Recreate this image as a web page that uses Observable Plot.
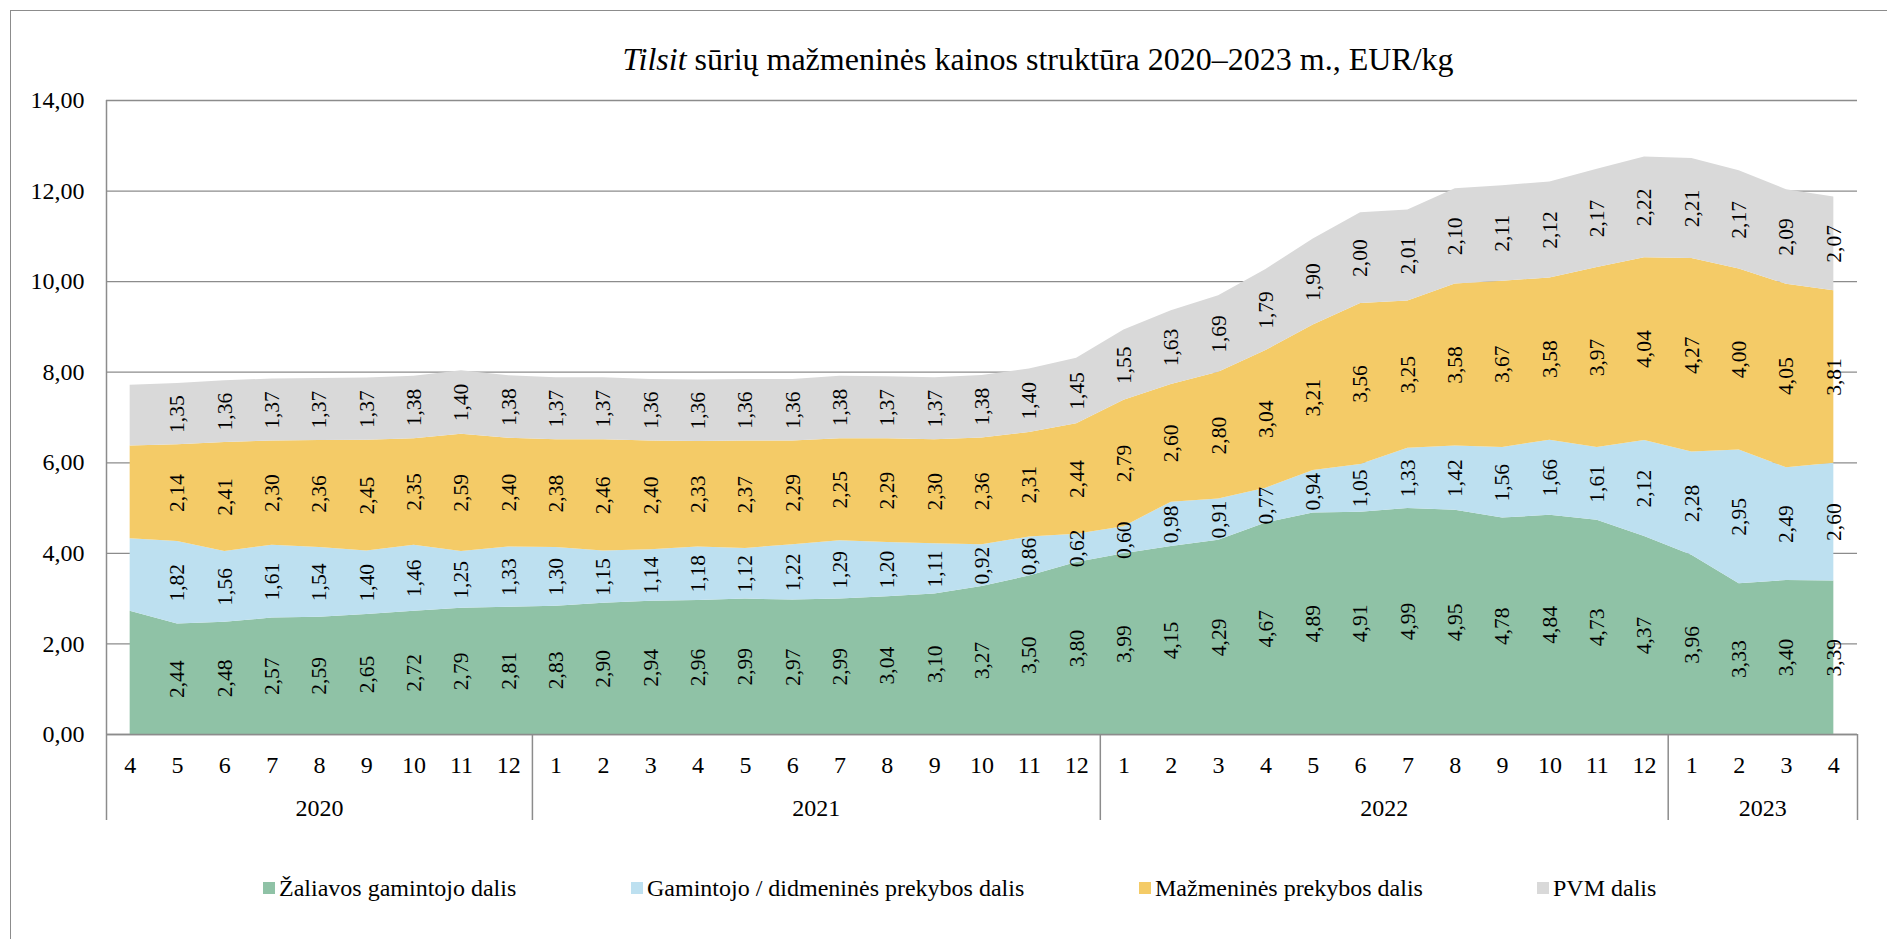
<!DOCTYPE html>
<html>
<head>
<meta charset="utf-8">
<script src="https://cdn.jsdelivr.net/npm/d3@7"></script>
<script src="https://cdn.jsdelivr.net/npm/@observablehq/plot@0.6"></script>
<style>
  body { margin: 0; background: #fff; font-family: "Liberation Serif", "Times New Roman", serif; }
  #frame { position: relative; width: 1887px; height: 939px; overflow: hidden; background: #fff; }
  #border { position: absolute; left: 10px; top: 10px; width: 1950px; height: 1000px;
            border-left: 1.5px solid #8c8c8c; border-top: 1.5px solid #8c8c8c; }
  #title { position: absolute; left: 1038px; top: 43px; transform: translateX(-50%);
           white-space: nowrap; font-size: 32px; line-height: 32px; color: #000; }
  #chart { position: absolute; left: 0; top: 80px; }
  .leg { position: absolute; top: 875px; height: 26px; display: flex; align-items: center;
         font-size: 24px; line-height: 26px; white-space: nowrap; color: #000; }
  .leg .sw { width: 12px; height: 12px; margin-right: 4px; flex: none; }
</style>
</head>
<body>
<div id="frame">
  <div id="border"></div>
  <div id="title"><i>Tilsit</i> sūrių mažmeninės kainos struktūra 2020–2023 m., EUR/kg</div>
  <div id="chart"></div>
  <div id="legend"></div>
</div>
<script>
// ---- data ----
const months = [4,5,6,7,8,9,10,11,12, 1,2,3,4,5,6,7,8,9,10,11,12, 1,2,3,4,5,6,7,8,9,10,11,12, 1,2,3,4];
const years = ["2020", "2021", "2022", "2023"];
const yearSpans = [9, 12, 12, 4];
const seriesNames = ["Žaliavos gamintojo dalis", "Gamintojo / didmeninės prekybos dalis", "Mažmeninės prekybos dalis", "PVM dalis"];
const seriesColors = ["#8fc2a6", "#bde0f0", "#f4cb67", "#d9d9d9"];

const rawShare = [2.72, 2.44, 2.48, 2.57, 2.59, 2.65, 2.72, 2.79, 2.81,
  2.83, 2.90, 2.94, 2.96, 2.99, 2.97, 2.99, 3.04, 3.10, 3.27, 3.50, 3.80,
  3.99, 4.15, 4.29, 4.67, 4.89, 4.91, 4.99, 4.95, 4.78, 4.84, 4.73, 4.37,
  3.96, 3.33, 3.40, 3.39];
const wholesaleShare = [1.60, 1.82, 1.56, 1.61, 1.54, 1.40, 1.46, 1.25, 1.33,
  1.30, 1.15, 1.14, 1.18, 1.12, 1.22, 1.29, 1.20, 1.11, 0.92, 0.86, 0.62,
  0.60, 0.98, 0.91, 0.77, 0.94, 1.05, 1.33, 1.42, 1.56, 1.66, 1.61, 2.12,
  2.28, 2.95, 2.49, 2.60];
const retailShare = [2.05, 2.14, 2.41, 2.30, 2.36, 2.45, 2.35, 2.59, 2.40,
  2.38, 2.46, 2.40, 2.33, 2.37, 2.29, 2.25, 2.29, 2.30, 2.36, 2.31, 2.44,
  2.79, 2.60, 2.80, 3.04, 3.21, 3.56, 3.25, 3.58, 3.67, 3.58, 3.97, 4.04,
  4.27, 4.00, 4.05, 3.81];
const vatShare = [1.34, 1.35, 1.36, 1.37, 1.37, 1.37, 1.38, 1.40, 1.38,
  1.37, 1.37, 1.36, 1.36, 1.36, 1.36, 1.38, 1.37, 1.37, 1.38, 1.40, 1.45,
  1.55, 1.63, 1.69, 1.79, 1.90, 2.00, 2.01, 2.10, 2.11, 2.12, 2.17, 2.22,
  2.21, 2.17, 2.09, 2.07];
const yTicks = [0, 2, 4, 6, 8, 10, 12, 14];

// ---- derived tables ----
const allValues = [rawShare, wholesaleShare, retailShare, vatShare];
const rows = [];
seriesNames.forEach((s, k) => allValues[k].forEach((v, i) => rows.push({i, series: s, value: v})));

const starts = [];
let acc = 0;
yearSpans.forEach(n => { starts.push(acc); acc += n; });
const bounds = [-0.5, ...starts.slice(1).map(s => s - 0.5), acc - 0.5];
const centers = starts.map((s, k) => s - 0.5 + yearSpans[k] / 2);

const fmt = v => d3.format(".2f")(v).replace(".", ",");
const gray = "#8c8c8c";

const chart = Plot.plot({
  width: 1887,
  height: 760,
  marginLeft: 106,
  marginRight: 30,
  marginTop: 20,
  marginBottom: 106,
  style: {fontFamily: "'Liberation Serif', 'Times New Roman', serif", fontSize: "24px", color: "#000", background: "transparent"},
  x: {type: "linear", domain: [-0.5, months.length - 0.5]},
  y: {domain: [0, 14]},
  color: {domain: seriesNames, range: seriesColors},
  marks: [
    Plot.gridY(yTicks, {stroke: gray, strokeOpacity: 1, strokeWidth: 1.3}),
    Plot.areaY(rows, {x: "i", y: "value", z: "series", fill: "series"}),
    Plot.text(rows.filter(d => d.i > 0), Plot.stackY({
      x: "i", y: "value", z: "series",
      text: d => fmt(d.value), rotate: -90, fontSize: 21.5, fill: "#000"
    })),
    Plot.ruleY([0], {stroke: gray, strokeWidth: 1.5}),
    Plot.ruleX([-0.5], {y1: 0, y2: 14, stroke: gray, strokeWidth: 1.5}),
    Plot.axisY(yTicks, {tickSize: 0, tickPadding: 22, tickFormat: fmt, fontSize: 24, label: null}),
    Plot.axisX(d3.range(months.length), {tickSize: 0, tickPadding: 21, tickFormat: i => String(months[i]), fontSize: 24, label: null}),
    Plot.axisX(bounds, {tickSize: 86, tickFormat: () => "", stroke: gray, strokeWidth: 1.5, label: null}),
    Plot.axisX(centers, {tickSize: 0, tickPadding: 64, tickFormat: d => years[centers.indexOf(d)], fontSize: 24, label: null})
  ]
});
document.getElementById("chart").appendChild(chart);

// ---- legend ----
const legendX = [263, 631, 1139, 1537];
const legend = document.getElementById("legend");
seriesNames.forEach((s, k) => {
  const item = document.createElement("div");
  item.className = "leg";
  item.style.left = legendX[k] + "px";
  const sw = document.createElement("span");
  sw.className = "sw";
  sw.style.background = seriesColors[k];
  const tx = document.createElement("span");
  tx.textContent = s;
  item.appendChild(sw);
  item.appendChild(tx);
  legend.appendChild(item);
});
</script>
</body>
</html>
